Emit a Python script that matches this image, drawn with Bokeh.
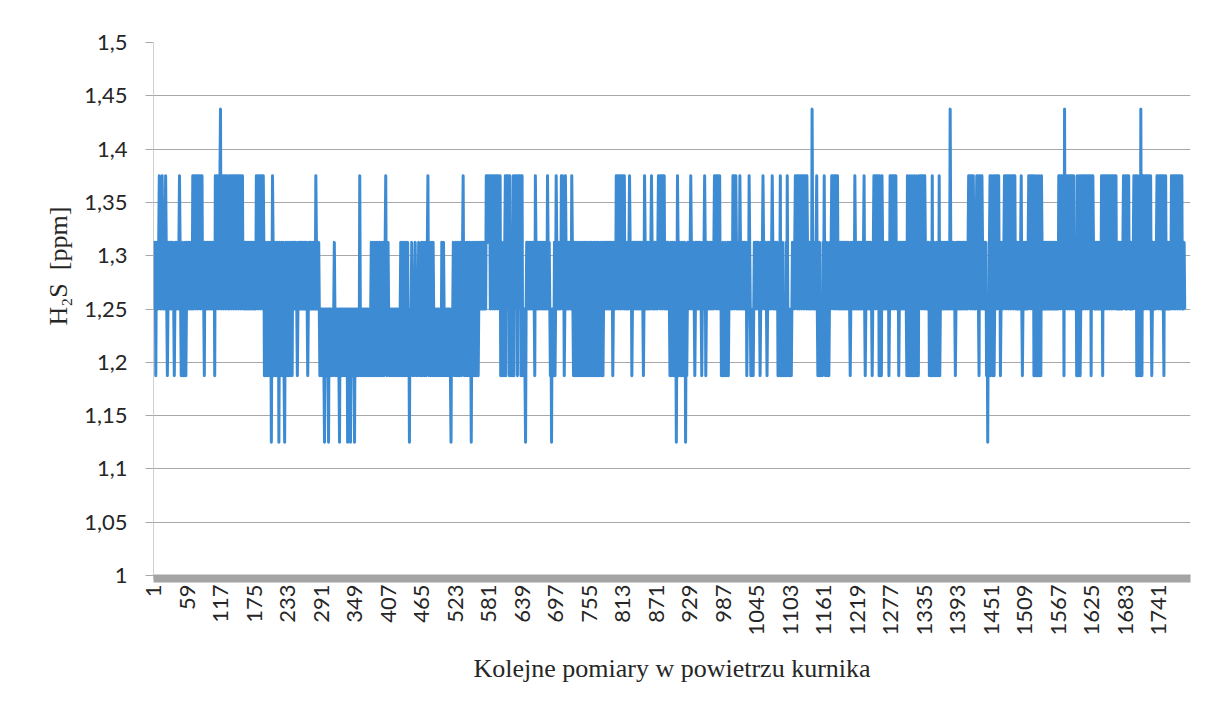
import math
from bokeh.plotting import figure
from bokeh.models import Range1d, FixedTicker, CustomJSTickFormatter, Title
from bokeh.embed import file_html
from bokeh.resources import INLINE

# level codes (quantised sensor steps)
level_values = {"a": 1.125, "b": 1.1875, "c": 1.25, "d": 1.3125, "e": 1.375, "f": 1.4375}

# one string per 58-sample block between category labels (1..58, 59..116, ...)
h2s_codes = [
    "cdcdbdcdcd" "edcdcedcdc" "dedcbcdcdc" "dcdcdcbcdc" "dcdcdedcbc" "bdbcbdbc",
    "dcdcdcdcdc" "ecedecedecedecede" "cdc" "b" "dcdcdcdcdcdcdcdcd" "b" "ecedecede",
    "f" "cedecedecedec" "dc" "edecedecedecedecedecede" "cdcdcdcdcdcdcdcdcdc",
    "dcdc" "edecedecedeced" "bcbdbcb" "dcbd" "cace" "dbcdbcdbcd" "a" "cdbcdbcdb" "a" "cdbc",
    "dbcdbcdcbdcd" "cdcdc" "b" "cdcdcdcdcdcdcdcdc" "b" "cdcdcdcdcdcdc" "e" "dcdcdcbc",
    "cbcbcb" "a" "cbcbcb" "a" "cbcbcbcbc" "d" "cbcbcbcb" "a" "cbcbcbcbcbcbc" "a" "cbcb" "a" "cbcbcb",
    "a" "cbcbcbcb" "e" "cbcbcbcbcbcbcbcbcbc" "dbcdbcdbcdbcdbcdbcdbcdbcd" "e" "cbd",
    "dc" "bcbcbcbcbcbcbcbcbcb" "cd" "bcdbcdbcdbcdb" "c" "a" "cbcdcbcbcdcbcbcdcbcb",
    "dcbdcbcdbcd" "e" "cbdcbdcbdc" "bcbcbcbcbcbcb" "dcbdc" "bcbcbcbcbcb" "a" "cbcdcb",
    "cdbcdbcdbcdbcd" "e" "cbdcbdcbdcbdc" "a" "cdbcdbcdbcdb" "cdcdcdcdcdcdc" "e" "ded",
    "edecedecedecedecedece" "bcbdbcbd" "ebedecebe" "cbdbc" "ebecedebecedebe",
    "ebc" "bcb" "a" "cdcdcdcdcdcdcdc" "b" "e" "dcdcdcdcdcdcdcdcdcdc" "e" "dcdcbc" "a" "cbcbdb",
    "c" "e" "dcdcdcdc" "edecd" "b" "ce" "dcdcdcdcdc" "e" "dc" "bcdbcdbcdbcdbcdbcdbcdbcdbcd",
    "bcdbcdbcdbcdbcdbcdbcdbcdb" "cdcdcdcdcdcdcdcd" "b" "cdcdc" "edecedecede",
    "cedec" "dcdcdcd" "e" "dcd" "b" "cdcdcdcdcdcdcdcdcdc" "b" "c" "e" "dcdcdcdcdcd" "e" "dcdcdcd",
    "cdcd" "edecedecede" "cdcdcdcdcb" "cdbcdbcdbc" "a" "c" "e" "dbcdbcdbcdbcd" "a" "cbcdcd",
    "cde" "dcdcdc" "b" "cdcdcdcdcdc" "b" "cdcd" "e" "d" "b" "cdcdcdcdcdcdcd" "edecedecde" "cd" "bcb",
    "dbcbdbcbdb" "cdcdcdc" "e" "d" "e" "cdedcd" "cdc" "e" "dcdcdcdcdcd" "b" "cdc" "e" "dcbc" "b" "cbcdcdc",
    "dcdcdc" "b" "cdcd" "e" "dcdcdc" "b" "cdcdcdcd" "e" "dcdcdcdcd" "bcbc" "e" "bcbdbcbcbdb" "e" "cbcb",
    "bcbcd" "cdcd" "edecedecedecedecedece" "dcdcdcdc" "f" "dcdcdcd" "e" "cbcbdbcbcbd",
    "c" "e" "cbcbdbcbcd" "cd" "edecedecedec" "dcdcdcdcdcdcdcdcdcdc" "b" "cdcdcdc" "e" "dcd",
    "cdcdcdcdcdcd" "e" "c" "b" "cdcdcdcdcdc" "b" "cd" "edecedece" "bebcbe" "dcdcdcdcdcd" "bce",
    "decedecedec" "dcd" "b" "cdcdcdcdcdcdc" "bebcbebcbebdbebcbebcbe" "cedecede",
    "ced" "cdcdcd" "bcbdbebcbdbcbdbcbebc" "dcdcdcdcdcdcdcdc" "f" "dcdcdcdc" "b" "cdc",
    "dcdcdcdcdcdcdcdcdcd" "edecedeced" "cdcd" "edec" "b" "edece" "dcdcdcd" "bc" "a" "cbd" "eb",
    "cedbeb" "cedecede" "cd" "b" "cdcdcd" "edecedecedecedecedec" "dcdcdcdcd" "e" "c" "b" "cdc",
    "dcdcdcd" "edecedece" "bebdbebcbebdb" "ed" "cdcdcdcdcdcdcdcdcdcdcdcdcdc",
    "c" "edecedece" "b" "f" "cedecedecedecede" "cdcd" "bebcbebc" "edecedecedecedece" "b",
    "eded" "cdcdcdcdcdcdc" "ed" "b" "edecedecedecedecedecede" "cdcdcdcdcdcd" "ede",
    "cdecedecdc" "dcdcd" "edece" "bebcbeb" "f" "cb" "edecedecedecedec" "b" "cdcdcdcd" "ede",
    "cedecedec" "b" "ede" "cdcdcdcdc" "edecedecedecedecede" "cdcdc",
]

x_tick_values = [1, 59, 117, 175, 233, 291, 349, 407, 465, 523, 581, 639, 697, 755, 813,
                 871, 929, 987, 1045, 1103, 1161, 1219, 1277, 1335, 1393, 1451, 1509,
                 1567, 1625, 1683, 1741]
y_tick_values = [1.0, 1.05, 1.1, 1.15, 1.2, 1.25, 1.3, 1.35, 1.4, 1.45, 1.5]

x_title = "Kolejne pomiary w powietrzu kurnika"
y_title = "H\u2082S\u00a0\u00a0[ppm]"

codes = "".join(h2s_codes)
y_vals = [level_values[ch] for ch in codes]
x_vals = list(range(1, len(y_vals) + 1))

# frame bottom sits 3 px under the 1,0 gridline so the thick axis bar hangs below it
y_start = 1.0 - 3 / 1066

p = figure(width=1200, height=705, output_backend="svg", toolbar_location=None,
           x_range=Range1d(1, 1796), y_range=Range1d(y_start, 1.5),
           min_border_left=153, min_border_right=10, min_border_top=42, min_border_bottom=127)
p.outline_line_color = None
p.background_fill_color = "white"
p.border_fill_color = "white"

p.line(x_vals, y_vals, line_width=3, line_color="#3d8bd3", line_join="round")

grid_col = "#a8a8a8"
tick_font = "Lato"
text_col = "#262626"

p.xgrid.visible = False
p.ygrid.ticker = FixedTicker(ticks=y_tick_values)
p.ygrid.grid_line_color = grid_col
p.ygrid.grid_line_width = 1

xa = p.xaxis[0]
xa.ticker = FixedTicker(ticks=x_tick_values)
xa.axis_line_color = "#a4a4a4"
xa.axis_line_width = 8
xa.major_tick_line_color = None
xa.minor_tick_line_color = None
xa.major_tick_out = 0
xa.major_tick_in = 0
xa.major_label_orientation = math.pi / 2
xa.major_label_standoff = 6
xa.major_label_text_font = tick_font
xa.major_label_text_font_size = "22px"
xa.major_label_text_color = text_col
xa.axis_label = x_title
xa.axis_label_text_font = "Liberation Serif"
xa.axis_label_text_font_size = "26px"
xa.axis_label_text_font_style = "normal"
xa.axis_label_text_color = text_col
xa.axis_label_standoff = 15

ya = p.yaxis[0]
ya.ticker = FixedTicker(ticks=y_tick_values)
ya.formatter = CustomJSTickFormatter(code="""
    const s = (Math.round(tick * 100) / 100).toString();
    return s.replace('.', ',');
""")
ya.axis_line_color = "#a0a0a0"
ya.axis_line_width = 1
ya.axis_line_dash = "1 1"
ya.major_tick_line_color = grid_col
ya.major_tick_out = 8
ya.major_tick_in = 0
ya.minor_tick_line_color = None
ya.major_label_standoff = 18
ya.major_label_text_font = tick_font
ya.major_label_text_font_size = "22px"
ya.major_label_text_color = text_col

# y-axis title sits above the frame centre in the original: a side title aligned from the bottom
p.add_layout(Title(text=y_title, align="left", offset=253, standoff=18,
                   text_font="Liberation Serif", text_font_size="26px",
                   text_font_style="normal", text_color=text_col), "left")

open("out.html", "w").write(file_html(p, INLINE))
